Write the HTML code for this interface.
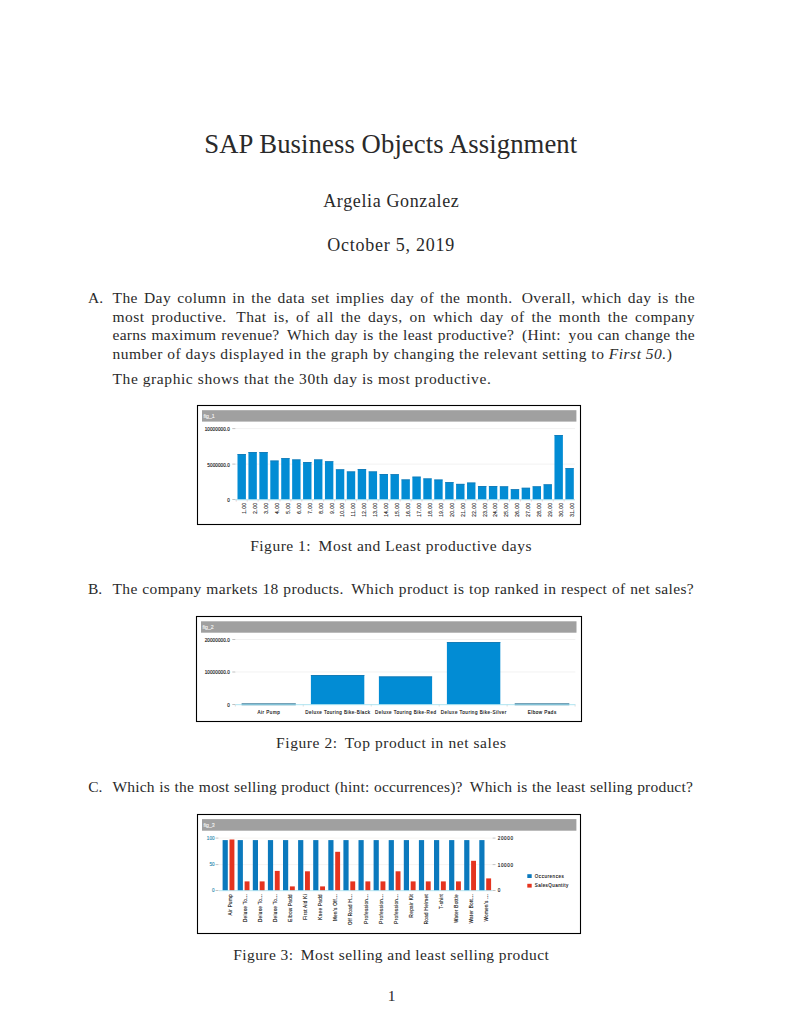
<!DOCTYPE html>
<html><head><meta charset="utf-8"><title>SAP Business Objects Assignment</title>
<style>
html,body{margin:0;padding:0;background:#fff;}
body{width:794px;height:1028px;position:relative;overflow:hidden;}
.t{position:absolute;white-space:nowrap;font-family:"Liberation Serif",serif;line-height:1;color:#2a2a2a;}
.ov{position:absolute;left:0;top:0;}
.sg{display:inline-block;width:3px;}
</style></head><body>
<div class="t" style="left:-9.20px;width:800px;text-align:center;top:130.84px;font-size:26.7px;letter-spacing:0.080px;">SAP Business Objects Assignment</div>
<div class="t" style="left:-8.70px;width:800px;text-align:center;top:191.43px;font-size:18px;letter-spacing:0.630px;margin-top:0.5px;">Argelia Gonzalez</div>
<div class="t" style="left:-8.80px;width:800px;text-align:center;top:235.33px;font-size:18px;letter-spacing:0.750px;margin-top:0.5px;">October 5, 2019</div>
<div class="t" style="left:88.00px;top:289.72px;font-size:15.5px;letter-spacing:0.000px;">A.</div>
<div class="t" style="left:112.50px;top:289.72px;font-size:15.5px;letter-spacing:0.450px;width:582.50px;text-align:justify;text-align-last:justify;">The Day column in the data set implies day of the month.<span class="sg"></span> Overall, which day is the</div>
<div class="t" style="left:112.50px;top:308.62px;font-size:15.5px;letter-spacing:0.450px;width:582.50px;text-align:justify;text-align-last:justify;">most productive.<span class="sg"></span> That is, of all the days, on which day of the month the company</div>
<div class="t" style="left:112.50px;top:327.42px;font-size:15.5px;letter-spacing:0.300px;width:582.50px;text-align:justify;text-align-last:justify;">earns maximum revenue?<span class="sg"></span> Which day is the least productive?<span class="sg"></span> (Hint:<span class="sg"></span> you can change the</div>
<div class="t" style="left:112.50px;top:346.12px;font-size:15.5px;letter-spacing:0.500px;">number of days displayed in the graph by changing the relevant setting to <i>First 50.</i>)</div>
<div class="t" style="left:112.50px;top:370.72px;font-size:15.5px;letter-spacing:0.580px;">The graphic shows that the 30th day is most productive.</div>
<div class="t" style="left:-8.90px;width:800px;text-align:center;top:537.92px;font-size:15.5px;letter-spacing:0.515px;">Figure 1:<span class="sg"></span> Most and Least productive days</div>
<div class="t" style="left:87.90px;top:581.32px;font-size:15.5px;letter-spacing:0.000px;">B.</div>
<div class="t" style="left:112.50px;top:581.32px;font-size:15.5px;letter-spacing:0.350px;width:581.50px;text-align:justify;text-align-last:justify;">The company markets 18 products.<span class="sg"></span> Which product is top ranked in respect of net sales?</div>
<div class="t" style="left:-8.70px;width:800px;text-align:center;top:734.82px;font-size:15.5px;letter-spacing:0.575px;">Figure 2:<span class="sg"></span> Top product in net sales</div>
<div class="t" style="left:88.20px;top:778.62px;font-size:15.5px;letter-spacing:0.000px;">C.</div>
<div class="t" style="left:112.50px;top:778.62px;font-size:15.5px;letter-spacing:0.200px;width:580.50px;text-align:justify;text-align-last:justify;">Which is the most selling product (hint: occurrences)?<span class="sg"></span> Which is the least selling product?</div>
<div class="t" style="left:-8.80px;width:800px;text-align:center;top:946.82px;font-size:15.5px;letter-spacing:0.430px;">Figure 3:<span class="sg"></span> Most selling and least selling product</div>
<div class="t" style="left:-8.50px;width:800px;text-align:center;top:988.42px;font-size:15.5px;letter-spacing:0.000px;">1</div>

<svg class="ov" width="794" height="1028" viewBox="0 0 794 1028" font-family="Liberation Sans, sans-serif"><rect x="197.5" y="405.5" width="383" height="119" fill="none" stroke="#000" stroke-width="1.1"/>
<rect x="202.00" y="410.20" width="374.40" height="11.40" fill="#a0a0a0" />
<text x="203.50" y="417.80" font-size="5.2" text-anchor="start" fill="#f4f4f4" stroke="#f4f4f4" stroke-width="0.12" >fig_1</text>
<line x1="235" y1="428.6" x2="575" y2="428.6" stroke="#ececec" stroke-width="0.7"/>
<line x1="232.3" y1="428.6" x2="235.3" y2="428.6" stroke="#999" stroke-width="0.6"/>
<text x="229.80" y="431.00" font-size="4.6" text-anchor="end" fill="#111" stroke="#111" stroke-width="0.12" letter-spacing="0.08">10000000.0</text>
<line x1="235" y1="464.1" x2="575" y2="464.1" stroke="#ececec" stroke-width="0.7"/>
<line x1="232.3" y1="464.1" x2="235.3" y2="464.1" stroke="#999" stroke-width="0.6"/>
<text x="229.80" y="466.50" font-size="4.6" text-anchor="end" fill="#111" stroke="#111" stroke-width="0.12" letter-spacing="0.08">5000000.0</text>
<line x1="235" y1="499.5" x2="575" y2="499.5" stroke="#ececec" stroke-width="0.7"/>
<line x1="232.3" y1="499.5" x2="235.3" y2="499.5" stroke="#999" stroke-width="0.6"/>
<text x="229.80" y="501.90" font-size="4.6" text-anchor="end" fill="#111" stroke="#111" stroke-width="0.12" letter-spacing="0.08">0</text>
<rect x="237.50" y="454.00" width="8.40" height="45.50" fill="#028cd4" />
<rect x="237.50" y="454.00" width="8.40" height="0.70" fill="#1a78b0" />
<text x="246.10" y="502.60" font-size="4.6" text-anchor="end" fill="#111" stroke="#111" stroke-width="0.12" letter-spacing="0.55" transform="rotate(-90 246.10 502.6)">1.00</text>
<line x1="236.25" y1="499.8" x2="236.25" y2="501.6" stroke="#e8a0a0" stroke-width="0.5"/>
<rect x="248.43" y="452.00" width="8.40" height="47.50" fill="#028cd4" />
<rect x="248.43" y="452.00" width="8.40" height="0.70" fill="#1a78b0" />
<text x="257.03" y="502.60" font-size="4.6" text-anchor="end" fill="#111" stroke="#111" stroke-width="0.12" letter-spacing="0.55" transform="rotate(-90 257.03 502.6)">2.00</text>
<line x1="247.18" y1="499.8" x2="247.18" y2="501.6" stroke="#e8a0a0" stroke-width="0.5"/>
<rect x="259.36" y="452.00" width="8.40" height="47.50" fill="#028cd4" />
<rect x="259.36" y="452.00" width="8.40" height="0.70" fill="#1a78b0" />
<text x="267.96" y="502.60" font-size="4.6" text-anchor="end" fill="#111" stroke="#111" stroke-width="0.12" letter-spacing="0.55" transform="rotate(-90 267.96 502.6)">3.00</text>
<line x1="258.11" y1="499.8" x2="258.11" y2="501.6" stroke="#e8a0a0" stroke-width="0.5"/>
<rect x="270.29" y="460.60" width="8.40" height="38.90" fill="#028cd4" />
<rect x="270.29" y="460.60" width="8.40" height="0.70" fill="#1a78b0" />
<text x="278.89" y="502.60" font-size="4.6" text-anchor="end" fill="#111" stroke="#111" stroke-width="0.12" letter-spacing="0.55" transform="rotate(-90 278.89 502.6)">4.00</text>
<line x1="269.04" y1="499.8" x2="269.04" y2="501.6" stroke="#e8a0a0" stroke-width="0.5"/>
<rect x="281.22" y="458.10" width="8.40" height="41.40" fill="#028cd4" />
<rect x="281.22" y="458.10" width="8.40" height="0.70" fill="#1a78b0" />
<text x="289.82" y="502.60" font-size="4.6" text-anchor="end" fill="#111" stroke="#111" stroke-width="0.12" letter-spacing="0.55" transform="rotate(-90 289.82 502.6)">5.00</text>
<line x1="279.97" y1="499.8" x2="279.97" y2="501.6" stroke="#e8a0a0" stroke-width="0.5"/>
<rect x="292.15" y="459.50" width="8.40" height="40.00" fill="#028cd4" />
<rect x="292.15" y="459.50" width="8.40" height="0.70" fill="#1a78b0" />
<text x="300.75" y="502.60" font-size="4.6" text-anchor="end" fill="#111" stroke="#111" stroke-width="0.12" letter-spacing="0.55" transform="rotate(-90 300.75 502.6)">6.00</text>
<line x1="290.90" y1="499.8" x2="290.90" y2="501.6" stroke="#e8a0a0" stroke-width="0.5"/>
<rect x="303.08" y="462.00" width="8.40" height="37.50" fill="#028cd4" />
<rect x="303.08" y="462.00" width="8.40" height="0.70" fill="#1a78b0" />
<text x="311.68" y="502.60" font-size="4.6" text-anchor="end" fill="#111" stroke="#111" stroke-width="0.12" letter-spacing="0.55" transform="rotate(-90 311.68 502.6)">7.00</text>
<line x1="301.83" y1="499.8" x2="301.83" y2="501.6" stroke="#e8a0a0" stroke-width="0.5"/>
<rect x="314.01" y="459.50" width="8.40" height="40.00" fill="#028cd4" />
<rect x="314.01" y="459.50" width="8.40" height="0.70" fill="#1a78b0" />
<text x="322.61" y="502.60" font-size="4.6" text-anchor="end" fill="#111" stroke="#111" stroke-width="0.12" letter-spacing="0.55" transform="rotate(-90 322.61 502.6)">8.00</text>
<line x1="312.76" y1="499.8" x2="312.76" y2="501.6" stroke="#e8a0a0" stroke-width="0.5"/>
<rect x="324.94" y="461.30" width="8.40" height="38.20" fill="#028cd4" />
<rect x="324.94" y="461.30" width="8.40" height="0.70" fill="#1a78b0" />
<text x="333.54" y="502.60" font-size="4.6" text-anchor="end" fill="#111" stroke="#111" stroke-width="0.12" letter-spacing="0.55" transform="rotate(-90 333.54 502.6)">9.00</text>
<line x1="323.69" y1="499.8" x2="323.69" y2="501.6" stroke="#e8a0a0" stroke-width="0.5"/>
<rect x="335.87" y="469.40" width="8.40" height="30.10" fill="#028cd4" />
<rect x="335.87" y="469.40" width="8.40" height="0.70" fill="#1a78b0" />
<text x="344.47" y="502.60" font-size="4.6" text-anchor="end" fill="#111" stroke="#111" stroke-width="0.12" letter-spacing="0.55" transform="rotate(-90 344.47 502.6)">10.00</text>
<line x1="334.62" y1="499.8" x2="334.62" y2="501.6" stroke="#e8a0a0" stroke-width="0.5"/>
<rect x="346.80" y="471.50" width="8.40" height="28.00" fill="#028cd4" />
<rect x="346.80" y="471.50" width="8.40" height="0.70" fill="#1a78b0" />
<text x="355.40" y="502.60" font-size="4.6" text-anchor="end" fill="#111" stroke="#111" stroke-width="0.12" letter-spacing="0.55" transform="rotate(-90 355.40 502.6)">11.00</text>
<line x1="345.55" y1="499.8" x2="345.55" y2="501.6" stroke="#e8a0a0" stroke-width="0.5"/>
<rect x="357.73" y="469.00" width="8.40" height="30.50" fill="#028cd4" />
<rect x="357.73" y="469.00" width="8.40" height="0.70" fill="#1a78b0" />
<text x="366.33" y="502.60" font-size="4.6" text-anchor="end" fill="#111" stroke="#111" stroke-width="0.12" letter-spacing="0.55" transform="rotate(-90 366.33 502.6)">12.00</text>
<line x1="356.48" y1="499.8" x2="356.48" y2="501.6" stroke="#e8a0a0" stroke-width="0.5"/>
<rect x="368.66" y="471.50" width="8.40" height="28.00" fill="#028cd4" />
<rect x="368.66" y="471.50" width="8.40" height="0.70" fill="#1a78b0" />
<text x="377.26" y="502.60" font-size="4.6" text-anchor="end" fill="#111" stroke="#111" stroke-width="0.12" letter-spacing="0.55" transform="rotate(-90 377.26 502.6)">13.00</text>
<line x1="367.41" y1="499.8" x2="367.41" y2="501.6" stroke="#e8a0a0" stroke-width="0.5"/>
<rect x="379.59" y="474.00" width="8.40" height="25.50" fill="#028cd4" />
<rect x="379.59" y="474.00" width="8.40" height="0.70" fill="#1a78b0" />
<text x="388.19" y="502.60" font-size="4.6" text-anchor="end" fill="#111" stroke="#111" stroke-width="0.12" letter-spacing="0.55" transform="rotate(-90 388.19 502.6)">14.00</text>
<line x1="378.34" y1="499.8" x2="378.34" y2="501.6" stroke="#e8a0a0" stroke-width="0.5"/>
<rect x="390.52" y="474.20" width="8.40" height="25.30" fill="#028cd4" />
<rect x="390.52" y="474.20" width="8.40" height="0.70" fill="#1a78b0" />
<text x="399.12" y="502.60" font-size="4.6" text-anchor="end" fill="#111" stroke="#111" stroke-width="0.12" letter-spacing="0.55" transform="rotate(-90 399.12 502.6)">15.00</text>
<line x1="389.27" y1="499.8" x2="389.27" y2="501.6" stroke="#e8a0a0" stroke-width="0.5"/>
<rect x="401.45" y="479.50" width="8.40" height="20.00" fill="#028cd4" />
<rect x="401.45" y="479.50" width="8.40" height="0.70" fill="#1a78b0" />
<text x="410.05" y="502.60" font-size="4.6" text-anchor="end" fill="#111" stroke="#111" stroke-width="0.12" letter-spacing="0.55" transform="rotate(-90 410.05 502.6)">16.00</text>
<line x1="400.20" y1="499.8" x2="400.20" y2="501.6" stroke="#e8a0a0" stroke-width="0.5"/>
<rect x="412.38" y="476.70" width="8.40" height="22.80" fill="#028cd4" />
<rect x="412.38" y="476.70" width="8.40" height="0.70" fill="#1a78b0" />
<text x="420.98" y="502.60" font-size="4.6" text-anchor="end" fill="#111" stroke="#111" stroke-width="0.12" letter-spacing="0.55" transform="rotate(-90 420.98 502.6)">17.00</text>
<line x1="411.13" y1="499.8" x2="411.13" y2="501.6" stroke="#e8a0a0" stroke-width="0.5"/>
<rect x="423.31" y="478.50" width="8.40" height="21.00" fill="#028cd4" />
<rect x="423.31" y="478.50" width="8.40" height="0.70" fill="#1a78b0" />
<text x="431.91" y="502.60" font-size="4.6" text-anchor="end" fill="#111" stroke="#111" stroke-width="0.12" letter-spacing="0.55" transform="rotate(-90 431.91 502.6)">18.00</text>
<line x1="422.06" y1="499.8" x2="422.06" y2="501.6" stroke="#e8a0a0" stroke-width="0.5"/>
<rect x="434.24" y="479.60" width="8.40" height="19.90" fill="#028cd4" />
<rect x="434.24" y="479.60" width="8.40" height="0.70" fill="#1a78b0" />
<text x="442.84" y="502.60" font-size="4.6" text-anchor="end" fill="#111" stroke="#111" stroke-width="0.12" letter-spacing="0.55" transform="rotate(-90 442.84 502.6)">19.00</text>
<line x1="432.99" y1="499.8" x2="432.99" y2="501.6" stroke="#e8a0a0" stroke-width="0.5"/>
<rect x="445.17" y="482.10" width="8.40" height="17.40" fill="#028cd4" />
<rect x="445.17" y="482.10" width="8.40" height="0.70" fill="#1a78b0" />
<text x="453.77" y="502.60" font-size="4.6" text-anchor="end" fill="#111" stroke="#111" stroke-width="0.12" letter-spacing="0.55" transform="rotate(-90 453.77 502.6)">20.00</text>
<line x1="443.92" y1="499.8" x2="443.92" y2="501.6" stroke="#e8a0a0" stroke-width="0.5"/>
<rect x="456.10" y="483.90" width="8.40" height="15.60" fill="#028cd4" />
<rect x="456.10" y="483.90" width="8.40" height="0.70" fill="#1a78b0" />
<text x="464.70" y="502.60" font-size="4.6" text-anchor="end" fill="#111" stroke="#111" stroke-width="0.12" letter-spacing="0.55" transform="rotate(-90 464.70 502.6)">21.00</text>
<line x1="454.85" y1="499.8" x2="454.85" y2="501.6" stroke="#e8a0a0" stroke-width="0.5"/>
<rect x="467.03" y="482.60" width="8.40" height="16.90" fill="#028cd4" />
<rect x="467.03" y="482.60" width="8.40" height="0.70" fill="#1a78b0" />
<text x="475.63" y="502.60" font-size="4.6" text-anchor="end" fill="#111" stroke="#111" stroke-width="0.12" letter-spacing="0.55" transform="rotate(-90 475.63 502.6)">22.00</text>
<line x1="465.78" y1="499.8" x2="465.78" y2="501.6" stroke="#e8a0a0" stroke-width="0.5"/>
<rect x="477.96" y="486.00" width="8.40" height="13.50" fill="#028cd4" />
<rect x="477.96" y="486.00" width="8.40" height="0.70" fill="#1a78b0" />
<text x="486.56" y="502.60" font-size="4.6" text-anchor="end" fill="#111" stroke="#111" stroke-width="0.12" letter-spacing="0.55" transform="rotate(-90 486.56 502.6)">23.00</text>
<line x1="476.71" y1="499.8" x2="476.71" y2="501.6" stroke="#e8a0a0" stroke-width="0.5"/>
<rect x="488.89" y="486.00" width="8.40" height="13.50" fill="#028cd4" />
<rect x="488.89" y="486.00" width="8.40" height="0.70" fill="#1a78b0" />
<text x="497.49" y="502.60" font-size="4.6" text-anchor="end" fill="#111" stroke="#111" stroke-width="0.12" letter-spacing="0.55" transform="rotate(-90 497.49 502.6)">24.00</text>
<line x1="487.64" y1="499.8" x2="487.64" y2="501.6" stroke="#e8a0a0" stroke-width="0.5"/>
<rect x="499.82" y="486.40" width="8.40" height="13.10" fill="#028cd4" />
<rect x="499.82" y="486.40" width="8.40" height="0.70" fill="#1a78b0" />
<text x="508.42" y="502.60" font-size="4.6" text-anchor="end" fill="#111" stroke="#111" stroke-width="0.12" letter-spacing="0.55" transform="rotate(-90 508.42 502.6)">25.00</text>
<line x1="498.57" y1="499.8" x2="498.57" y2="501.6" stroke="#e8a0a0" stroke-width="0.5"/>
<rect x="510.75" y="489.20" width="8.40" height="10.30" fill="#028cd4" />
<rect x="510.75" y="489.20" width="8.40" height="0.70" fill="#1a78b0" />
<text x="519.35" y="502.60" font-size="4.6" text-anchor="end" fill="#111" stroke="#111" stroke-width="0.12" letter-spacing="0.55" transform="rotate(-90 519.35 502.6)">26.00</text>
<line x1="509.50" y1="499.8" x2="509.50" y2="501.6" stroke="#e8a0a0" stroke-width="0.5"/>
<rect x="521.68" y="487.80" width="8.40" height="11.70" fill="#028cd4" />
<rect x="521.68" y="487.80" width="8.40" height="0.70" fill="#1a78b0" />
<text x="530.28" y="502.60" font-size="4.6" text-anchor="end" fill="#111" stroke="#111" stroke-width="0.12" letter-spacing="0.55" transform="rotate(-90 530.28 502.6)">27.00</text>
<line x1="520.43" y1="499.8" x2="520.43" y2="501.6" stroke="#e8a0a0" stroke-width="0.5"/>
<rect x="532.61" y="486.40" width="8.40" height="13.10" fill="#028cd4" />
<rect x="532.61" y="486.40" width="8.40" height="0.70" fill="#1a78b0" />
<text x="541.21" y="502.60" font-size="4.6" text-anchor="end" fill="#111" stroke="#111" stroke-width="0.12" letter-spacing="0.55" transform="rotate(-90 541.21 502.6)">28.00</text>
<line x1="531.36" y1="499.8" x2="531.36" y2="501.6" stroke="#e8a0a0" stroke-width="0.5"/>
<rect x="543.54" y="484.40" width="8.40" height="15.10" fill="#028cd4" />
<rect x="543.54" y="484.40" width="8.40" height="0.70" fill="#1a78b0" />
<text x="552.14" y="502.60" font-size="4.6" text-anchor="end" fill="#111" stroke="#111" stroke-width="0.12" letter-spacing="0.55" transform="rotate(-90 552.14 502.6)">29.00</text>
<line x1="542.29" y1="499.8" x2="542.29" y2="501.6" stroke="#e8a0a0" stroke-width="0.5"/>
<rect x="554.47" y="435.00" width="8.40" height="64.50" fill="#028cd4" />
<rect x="554.47" y="435.00" width="8.40" height="0.70" fill="#1a78b0" />
<text x="563.07" y="502.60" font-size="4.6" text-anchor="end" fill="#111" stroke="#111" stroke-width="0.12" letter-spacing="0.55" transform="rotate(-90 563.07 502.6)">30.00</text>
<line x1="553.22" y1="499.8" x2="553.22" y2="501.6" stroke="#e8a0a0" stroke-width="0.5"/>
<rect x="565.40" y="468.10" width="8.40" height="31.40" fill="#028cd4" />
<rect x="565.40" y="468.10" width="8.40" height="0.70" fill="#1a78b0" />
<text x="574.00" y="502.60" font-size="4.6" text-anchor="end" fill="#111" stroke="#111" stroke-width="0.12" letter-spacing="0.55" transform="rotate(-90 574.00 502.6)">31.00</text>
<line x1="564.15" y1="499.8" x2="564.15" y2="501.6" stroke="#e8a0a0" stroke-width="0.5"/>
<line x1="235" y1="499.8" x2="575" y2="499.8" stroke="#a8e4f4" stroke-width="0.9"/>
<rect x="196.5" y="616.5" width="385" height="105" fill="none" stroke="#000" stroke-width="1.1"/>
<rect x="201.00" y="621.30" width="375.50" height="11.40" fill="#a0a0a0" />
<text x="202.50" y="628.80" font-size="5.2" text-anchor="start" fill="#f4f4f4" stroke="#f4f4f4" stroke-width="0.12" >fig_2</text>
<line x1="235.3" y1="639.5" x2="575.3" y2="639.5" stroke="#ececec" stroke-width="0.7"/>
<line x1="232.3" y1="639.5" x2="235.3" y2="639.5" stroke="#999" stroke-width="0.6"/>
<text x="229.80" y="641.90" font-size="4.6" text-anchor="end" fill="#111" stroke="#111" stroke-width="0.12" letter-spacing="0.08">20000000.0</text>
<line x1="235.3" y1="672.0" x2="575.3" y2="672.0" stroke="#ececec" stroke-width="0.7"/>
<line x1="232.3" y1="672.0" x2="235.3" y2="672.0" stroke="#999" stroke-width="0.6"/>
<text x="229.80" y="674.40" font-size="4.6" text-anchor="end" fill="#111" stroke="#111" stroke-width="0.12" letter-spacing="0.08">10000000.0</text>
<line x1="235.3" y1="704.5" x2="575.3" y2="704.5" stroke="#ececec" stroke-width="0.7"/>
<line x1="232.3" y1="704.5" x2="235.3" y2="704.5" stroke="#999" stroke-width="0.6"/>
<text x="229.80" y="706.90" font-size="4.6" text-anchor="end" fill="#111" stroke="#111" stroke-width="0.12" letter-spacing="0.08">0</text>
<rect x="241.60" y="703.40" width="54.20" height="1.80" fill="#1d6689" />
<text x="268.90" y="713.60" font-size="4.6" text-anchor="middle" fill="#111" stroke="#111" stroke-width="0.12" letter-spacing="0.47">Air Pump</text>
<rect x="310.90" y="675.00" width="53.40" height="29.50" fill="#028cd4" />
<rect x="310.90" y="675.00" width="53.40" height="0.80" fill="#1a78b0" />
<text x="337.80" y="713.60" font-size="4.6" text-anchor="middle" fill="#111" stroke="#111" stroke-width="0.12" letter-spacing="0.47">Deluxe Touring Bike-Black</text>
<rect x="378.90" y="676.50" width="53.20" height="28.00" fill="#028cd4" />
<rect x="378.90" y="676.50" width="53.20" height="0.80" fill="#1a78b0" />
<text x="405.70" y="713.60" font-size="4.6" text-anchor="middle" fill="#111" stroke="#111" stroke-width="0.12" letter-spacing="0.47">Deluxe Touring Bike-Red</text>
<rect x="446.90" y="642.00" width="53.40" height="62.50" fill="#028cd4" />
<rect x="446.90" y="642.00" width="53.40" height="0.80" fill="#1a78b0" />
<text x="473.80" y="713.60" font-size="4.6" text-anchor="middle" fill="#111" stroke="#111" stroke-width="0.12" letter-spacing="0.47">Deluxe Touring Bike-Silver</text>
<rect x="514.70" y="703.40" width="54.60" height="1.80" fill="#1d6689" />
<text x="542.20" y="713.60" font-size="4.6" text-anchor="middle" fill="#111" stroke="#111" stroke-width="0.12" letter-spacing="0.47">Elbow Pads</text>
<line x1="235.30" y1="704.6" x2="235.30" y2="706.5" stroke="#bbb" stroke-width="0.5"/>
<line x1="303.26" y1="704.6" x2="303.26" y2="706.5" stroke="#bbb" stroke-width="0.5"/>
<line x1="371.22" y1="704.6" x2="371.22" y2="706.5" stroke="#bbb" stroke-width="0.5"/>
<line x1="439.18" y1="704.6" x2="439.18" y2="706.5" stroke="#bbb" stroke-width="0.5"/>
<line x1="507.14" y1="704.6" x2="507.14" y2="706.5" stroke="#bbb" stroke-width="0.5"/>
<line x1="575.10" y1="704.6" x2="575.10" y2="706.5" stroke="#bbb" stroke-width="0.5"/>
<line x1="235.3" y1="704.7" x2="575.3" y2="704.7" stroke="#a8e4f4" stroke-width="0.9"/>
<rect x="197.5" y="814.5" width="383" height="119" fill="none" stroke="#000" stroke-width="1.1"/>
<rect x="202.00" y="819.10" width="374.40" height="11.60" fill="#a0a0a0" />
<text x="203.50" y="826.80" font-size="5.2" text-anchor="start" fill="#f4f4f4" stroke="#f4f4f4" stroke-width="0.12" >fig_3</text>
<line x1="219" y1="838.1" x2="492" y2="838.1" stroke="#f0ece8" stroke-width="0.6"/>
<line x1="215.5" y1="838.1" x2="218.5" y2="838.1" stroke="#999" stroke-width="0.6"/>
<line x1="492.5" y1="838.1" x2="495.5" y2="838.1" stroke="#999" stroke-width="0.6"/>
<text x="214.50" y="839.80" font-size="4.6" text-anchor="end" fill="#2a8ab0" stroke="#2a8ab0" stroke-width="0.12" >100</text>
<text x="497.80" y="840.00" font-size="4.6" text-anchor="start" fill="#111" stroke="#111" stroke-width="0.12" letter-spacing="0.6">20000</text>
<line x1="219" y1="864.6" x2="492" y2="864.6" stroke="#f0ece8" stroke-width="0.6"/>
<line x1="215.5" y1="864.6" x2="218.5" y2="864.6" stroke="#999" stroke-width="0.6"/>
<line x1="492.5" y1="864.6" x2="495.5" y2="864.6" stroke="#999" stroke-width="0.6"/>
<text x="214.50" y="866.30" font-size="4.6" text-anchor="end" fill="#2a8ab0" stroke="#2a8ab0" stroke-width="0.12" >50</text>
<text x="497.80" y="866.50" font-size="4.6" text-anchor="start" fill="#111" stroke="#111" stroke-width="0.12" letter-spacing="0.6">10000</text>
<line x1="219" y1="890.5" x2="492" y2="890.5" stroke="#f0ece8" stroke-width="0.6"/>
<line x1="215.5" y1="890.5" x2="218.5" y2="890.5" stroke="#999" stroke-width="0.6"/>
<line x1="492.5" y1="890.5" x2="495.5" y2="890.5" stroke="#999" stroke-width="0.6"/>
<text x="214.50" y="892.20" font-size="4.6" text-anchor="end" fill="#2a8ab0" stroke="#2a8ab0" stroke-width="0.12" >0</text>
<text x="497.80" y="892.40" font-size="4.6" text-anchor="start" fill="#111" stroke="#111" stroke-width="0.12" letter-spacing="0.6">0</text>
<rect x="222.60" y="840.10" width="5.20" height="50.40" fill="#0b79bd" />
<rect x="229.50" y="839.50" width="4.90" height="51.00" fill="#e5341f" />
<text x="231.60" y="894.00" font-size="4.6" text-anchor="end" fill="#111" stroke="#111" stroke-width="0.12" letter-spacing="0.32" transform="rotate(-90 231.60 894.0)">Air Pump</text>
<rect x="237.70" y="840.10" width="5.20" height="50.40" fill="#0b79bd" />
<rect x="244.60" y="881.40" width="4.90" height="9.10" fill="#e5341f" />
<text x="246.70" y="894.00" font-size="4.6" text-anchor="end" fill="#111" stroke="#111" stroke-width="0.12" letter-spacing="0.32" transform="rotate(-90 246.70 894.0)">Deluxe To...</text>
<rect x="252.80" y="840.10" width="5.20" height="50.40" fill="#0b79bd" />
<rect x="259.70" y="881.40" width="4.90" height="9.10" fill="#e5341f" />
<text x="261.80" y="894.00" font-size="4.6" text-anchor="end" fill="#111" stroke="#111" stroke-width="0.12" letter-spacing="0.32" transform="rotate(-90 261.80 894.0)">Deluxe To...</text>
<rect x="267.90" y="840.10" width="5.20" height="50.40" fill="#0b79bd" />
<rect x="274.80" y="870.90" width="4.90" height="19.60" fill="#e5341f" />
<text x="276.90" y="894.00" font-size="4.6" text-anchor="end" fill="#111" stroke="#111" stroke-width="0.12" letter-spacing="0.32" transform="rotate(-90 276.90 894.0)">Deluxe To...</text>
<rect x="283.00" y="840.10" width="5.20" height="50.40" fill="#0b79bd" />
<rect x="289.90" y="886.40" width="4.90" height="4.10" fill="#e5341f" />
<text x="292.00" y="894.00" font-size="4.6" text-anchor="end" fill="#111" stroke="#111" stroke-width="0.12" letter-spacing="0.32" transform="rotate(-90 292.00 894.0)">Elbow Padd</text>
<rect x="298.10" y="840.10" width="5.20" height="50.40" fill="#0b79bd" />
<rect x="305.00" y="871.30" width="4.90" height="19.20" fill="#e5341f" />
<text x="307.10" y="894.00" font-size="4.6" text-anchor="end" fill="#111" stroke="#111" stroke-width="0.12" letter-spacing="0.32" transform="rotate(-90 307.10 894.0)">First Aid Ki</text>
<rect x="313.20" y="840.10" width="5.20" height="50.40" fill="#0b79bd" />
<rect x="320.10" y="886.40" width="4.90" height="4.10" fill="#e5341f" />
<text x="322.20" y="894.00" font-size="4.6" text-anchor="end" fill="#111" stroke="#111" stroke-width="0.12" letter-spacing="0.32" transform="rotate(-90 322.20 894.0)">Knee Padd</text>
<rect x="328.30" y="840.10" width="5.20" height="50.40" fill="#0b79bd" />
<rect x="335.20" y="851.80" width="4.90" height="38.70" fill="#e5341f" />
<text x="337.30" y="894.00" font-size="4.6" text-anchor="end" fill="#111" stroke="#111" stroke-width="0.12" letter-spacing="0.32" transform="rotate(-90 337.30 894.0)">Men's Off...</text>
<rect x="343.40" y="840.10" width="5.20" height="50.40" fill="#0b79bd" />
<rect x="350.30" y="881.40" width="4.90" height="9.10" fill="#e5341f" />
<text x="352.40" y="894.00" font-size="4.6" text-anchor="end" fill="#111" stroke="#111" stroke-width="0.12" letter-spacing="0.32" transform="rotate(-90 352.40 894.0)">Off Road H...</text>
<rect x="358.50" y="840.10" width="5.20" height="50.40" fill="#0b79bd" />
<rect x="365.40" y="881.40" width="4.90" height="9.10" fill="#e5341f" />
<text x="367.50" y="894.00" font-size="4.6" text-anchor="end" fill="#111" stroke="#111" stroke-width="0.12" letter-spacing="0.32" transform="rotate(-90 367.50 894.0)">Profession...</text>
<rect x="373.60" y="840.10" width="5.20" height="50.40" fill="#0b79bd" />
<rect x="380.50" y="881.40" width="4.90" height="9.10" fill="#e5341f" />
<text x="382.60" y="894.00" font-size="4.6" text-anchor="end" fill="#111" stroke="#111" stroke-width="0.12" letter-spacing="0.32" transform="rotate(-90 382.60 894.0)">Profession...</text>
<rect x="388.70" y="840.10" width="5.20" height="50.40" fill="#0b79bd" />
<rect x="395.60" y="871.30" width="4.90" height="19.20" fill="#e5341f" />
<text x="397.70" y="894.00" font-size="4.6" text-anchor="end" fill="#111" stroke="#111" stroke-width="0.12" letter-spacing="0.32" transform="rotate(-90 397.70 894.0)">Profession...</text>
<rect x="403.80" y="840.10" width="5.20" height="50.40" fill="#0b79bd" />
<rect x="410.70" y="881.40" width="4.90" height="9.10" fill="#e5341f" />
<text x="412.80" y="894.00" font-size="4.6" text-anchor="end" fill="#111" stroke="#111" stroke-width="0.12" letter-spacing="0.32" transform="rotate(-90 412.80 894.0)">Repair Kit</text>
<rect x="418.90" y="840.10" width="5.20" height="50.40" fill="#0b79bd" />
<rect x="425.80" y="881.40" width="4.90" height="9.10" fill="#e5341f" />
<text x="427.90" y="894.00" font-size="4.6" text-anchor="end" fill="#111" stroke="#111" stroke-width="0.12" letter-spacing="0.32" transform="rotate(-90 427.90 894.0)">Road Helmet</text>
<rect x="434.00" y="840.10" width="5.20" height="50.40" fill="#0b79bd" />
<rect x="440.90" y="881.40" width="4.90" height="9.10" fill="#e5341f" />
<text x="443.00" y="894.00" font-size="4.6" text-anchor="end" fill="#111" stroke="#111" stroke-width="0.12" letter-spacing="0.32" transform="rotate(-90 443.00 894.0)">T-shirt</text>
<rect x="449.10" y="840.10" width="5.20" height="50.40" fill="#0b79bd" />
<rect x="456.00" y="881.40" width="4.90" height="9.10" fill="#e5341f" />
<text x="458.10" y="894.00" font-size="4.6" text-anchor="end" fill="#111" stroke="#111" stroke-width="0.12" letter-spacing="0.32" transform="rotate(-90 458.10 894.0)">Water Bottle</text>
<rect x="464.20" y="840.10" width="5.20" height="50.40" fill="#0b79bd" />
<rect x="471.10" y="860.80" width="4.90" height="29.70" fill="#e5341f" />
<text x="473.20" y="894.00" font-size="4.6" text-anchor="end" fill="#111" stroke="#111" stroke-width="0.12" letter-spacing="0.32" transform="rotate(-90 473.20 894.0)">Water Bott...</text>
<rect x="479.30" y="840.10" width="5.20" height="50.40" fill="#0b79bd" />
<rect x="486.20" y="878.40" width="4.90" height="12.10" fill="#e5341f" />
<text x="488.30" y="894.00" font-size="4.6" text-anchor="end" fill="#111" stroke="#111" stroke-width="0.12" letter-spacing="0.32" transform="rotate(-90 488.30 894.0)">Women's ...</text>
<line x1="219" y1="890.7" x2="492.5" y2="890.7" stroke="#a8e4f4" stroke-width="0.8"/>
<rect x="527.30" y="874.20" width="4.40" height="3.80" fill="#0b79bd" />
<text x="534.80" y="877.80" font-size="4.5" text-anchor="start" fill="#111" stroke="#111" stroke-width="0.12" letter-spacing="0.55">Occurences</text>
<rect x="527.30" y="883.80" width="4.40" height="3.80" fill="#e5341f" />
<text x="534.80" y="887.40" font-size="4.5" text-anchor="start" fill="#111" stroke="#111" stroke-width="0.12" letter-spacing="0.45">SalesQuantity</text></svg>
</body></html>
